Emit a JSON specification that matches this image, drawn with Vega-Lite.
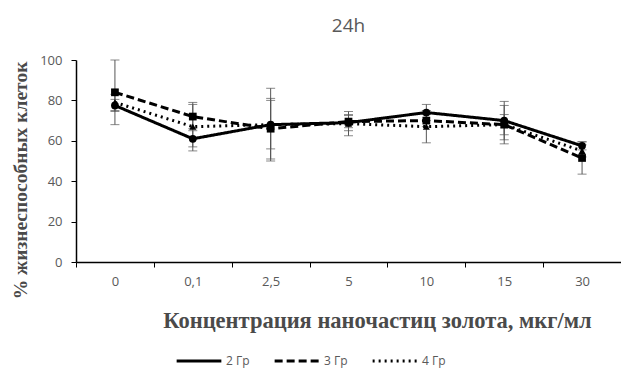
{
  "$schema": "https://vega.github.io/schema/vega-lite/v6.json",
  "autosize": {"type": "none"},
  "width": 545,
  "height": 202,
  "padding": {"left": 76, "top": 60, "right": 0, "bottom": 107},
  "background": "white",
  "title": {"text": "24h", "font": "Open Sans", "fontSize": 19, "fontWeight": "normal", "color": "#595959", "offset": 18},
  "data": {"values": [
    {"conc": "0", "group": "2 Гр", "v": 77.5, "lo": 74.5, "hi": 80.5},
    {"conc": "0,1", "group": "2 Гр", "v": 61, "lo": 57, "hi": 65},
    {"conc": "2,5", "group": "2 Гр", "v": 68, "lo": 50, "hi": 86},
    {"conc": "5", "group": "2 Гр", "v": 69, "lo": 65, "hi": 73},
    {"conc": "10", "group": "2 Гр", "v": 74, "lo": 70, "hi": 78},
    {"conc": "15", "group": "2 Гр", "v": 70, "lo": 60.5, "hi": 79.5},
    {"conc": "30", "group": "2 Гр", "v": 57.5, "lo": 55.5, "hi": 59.5},
    {"conc": "0", "group": "3 Гр", "v": 84, "lo": 68, "hi": 100},
    {"conc": "0,1", "group": "3 Гр", "v": 72, "lo": 66, "hi": 78},
    {"conc": "2,5", "group": "3 Гр", "v": 66, "lo": 51, "hi": 81},
    {"conc": "5", "group": "3 Гр", "v": 69.5, "lo": 66.5, "hi": 72.5},
    {"conc": "10", "group": "3 Гр", "v": 70, "lo": 67, "hi": 73},
    {"conc": "15", "group": "3 Гр", "v": 68, "lo": 58.5, "hi": 77.5},
    {"conc": "30", "group": "3 Гр", "v": 51.5, "lo": 43.5, "hi": 59.5},
    {"conc": "0", "group": "4 Гр", "v": 79, "lo": 75, "hi": 83},
    {"conc": "0,1", "group": "4 Гр", "v": 67, "lo": 55, "hi": 79},
    {"conc": "2,5", "group": "4 Гр", "v": 68, "lo": 56, "hi": 80},
    {"conc": "5", "group": "4 Гр", "v": 68.5, "lo": 62.5, "hi": 74.5},
    {"conc": "10", "group": "4 Гр", "v": 67, "lo": 59, "hi": 75},
    {"conc": "15", "group": "4 Гр", "v": 68, "lo": 63, "hi": 73},
    {"conc": "30", "group": "4 Гр", "v": 55, "lo": 52, "hi": 58}
  ]},
  "encoding": {
    "x": {"field": "conc", "type": "ordinal", "sort": ["0", "0,1", "2,5", "5", "10", "15", "30"],
      "scale": {"paddingInner": 0, "paddingOuter": 0},
      "axis": {"title": "Концентрация наночастиц золота, мкг/мл", "titleFont": "Liberation Serif", "titleFontSize": 22.5, "titleFontWeight": "bold", "titleColor": "#4a4a4a",
        "titleX": 301, "titleY": 65, "titleBaseline": "alphabetic", "titleAlign": "center",
        "labelAngle": 0, "labelFont": "Open Sans", "labelFontSize": 13, "labelColor": "#595959", "labelPadding": 8,
        "tickBand": "extent", "tickSize": 5, "tickColor": "#000", "domainColor": "#000", "domainWidth": 1.5}}
  },
  "layer": [
    {
      "mark": {"type": "rule", "color": "#555", "strokeWidth": 1},
      "encoding": {"y": {"field": "lo", "type": "quantitative"}, "y2": {"field": "hi"}}
    },
    {
      "mark": {"type": "tick", "color": "#555", "orient": "horizontal", "size": 9, "thickness": 1},
      "encoding": {"y": {"field": "lo", "type": "quantitative"}}
    },
    {
      "mark": {"type": "tick", "color": "#555", "orient": "horizontal", "size": 9, "thickness": 1},
      "encoding": {"y": {"field": "hi", "type": "quantitative"}}
    },
    {
      "mark": {"type": "line", "color": "#000", "strokeWidth": 3},
      "encoding": {
        "y": {"field": "v", "type": "quantitative", "scale": {"domain": [0, 100]},
          "axis": {"title": "% жизнеспособных клеток", "titleFont": "Liberation Serif", "titleFontSize": 19.5, "titleFontWeight": "bold", "titleColor": "#4a4a4a",
            "titleX": -56, "titleY": 120, "titleBaseline": "middle", "titleAlign": "center", "titleAngle": -90,
            "values": [0, 20, 40, 60, 80, 100], "grid": false, "labelFont": "Open Sans", "labelFontSize": 13, "labelColor": "#595959", "labelPadding": 9,
            "tickSize": 5, "tickColor": "#000", "domainColor": "#000", "domainWidth": 1.5}},
        "strokeDash": {"field": "group", "type": "nominal",
          "scale": {"domain": ["2 Гр", "3 Гр", "4 Гр"], "range": [[1, 0], [8, 4], [2, 4]]},
          "legend": {"orient": "none", "legendX": 99, "legendY": 277, "direction": "horizontal", "title": null,
            "symbolType": "stroke", "symbolStrokeWidth": 3, "symbolSize": 2000, "symbolStrokeColor": "#000",
            "labelFont": "Open Sans", "labelFontSize": 12, "labelColor": "#595959", "columnPadding": 18, "labelOffset": 3}},
        "detail": {"field": "group"}
      }
    },
    {
      "transform": [{"filter": "datum.group === '2 Гр'"}],
      "mark": {"type": "point", "filled": true, "color": "#000", "opacity": 1, "size": 60, "shape": "circle"},
      "encoding": {"y": {"field": "v", "type": "quantitative"}}
    },
    {
      "transform": [{"filter": "datum.group === '3 Гр'"}],
      "mark": {"type": "point", "filled": true, "color": "#000", "opacity": 1, "size": 60, "shape": "square"},
      "encoding": {"y": {"field": "v", "type": "quantitative"}}
    },
    {
      "transform": [{"filter": "datum.group === '4 Гр'"}],
      "mark": {"type": "point", "filled": true, "color": "#000", "opacity": 1, "size": 50, "shape": "triangle-up"},
      "encoding": {"y": {"field": "v", "type": "quantitative"}}
    }
  ],
  "config": {"view": {"stroke": null}}
}
